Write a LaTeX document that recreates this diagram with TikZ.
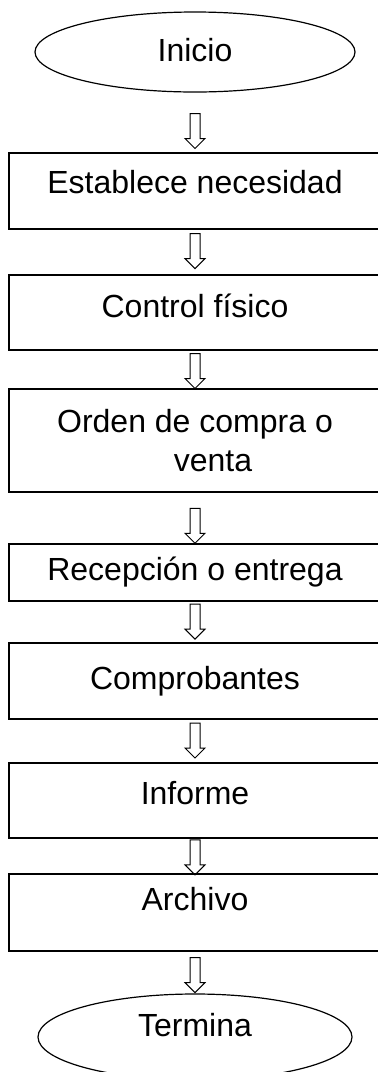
\documentclass[tikz,border=0pt]{standalone}
\usepackage{fontspec}
\setmainfont{Liberation Sans}
\usetikzlibrary{positioning,shapes.geometric}
\begin{document}
\begin{tikzpicture}[font=\fontsize{24}{29.25}\selectfont,
    caja/.style = {draw, line width=1.5pt, outer sep=0pt, minimum width=279pt, inner sep=3pt},
    extremo/.style = {draw, ellipse, line width=0.9pt, outer sep=0pt, minimum width=240pt, minimum height=60pt, inner sep=2pt},
    lift/.style = {text height=17.2pt, text depth=#1},
    bloque/.pic = {\draw[line width=0.75pt] (-3.75pt,13.1pt) -- (-3.75pt,-5.6pt) -- (-7.5pt,-5.6pt) -- (0,-13.1pt) -- (7.5pt,-5.6pt) -- (3.75pt,-5.6pt) -- (3.75pt,13.1pt) -- cycle;}]
            \useasboundingbox (0,0) rectangle (283.5pt,-804pt);
            \node[extremo, lift=3pt] (inicio) at (146.25pt,-39pt) {Inicio};
            \node[caja, minimum height=57pt, lift=13.5pt] (necesidad) [below=45.75pt of inicio] {Establece necesidad};
            \node[caja, minimum height=56.25pt, lift=9.75pt] (control) [below=34.5pt of necesidad] {Control físico};
            \node[caja, minimum height=77.25pt, align=center] (orden) [below=29.25pt of control] {Orden de compra o\\\hspace*{27pt}venta};
            \node[caja, minimum height=42.75pt, lift=5.25pt] (recepcion) [below=39pt of orden] {Recepción o entrega};
            \node[caja, minimum height=57pt, lift=4.5pt] (comprobantes) [below=31.5pt of recepcion] {Comprobantes};
            \node[caja, minimum height=56.25pt, lift=11.25pt] (informe) [below=33pt of comprobantes] {Informe};
            \node[caja, minimum height=57.75pt, lift=20.25pt] (archivo) [below=27pt of informe] {Archivo};
            \node[extremo, minimum width=235.5pt, minimum height=64.5pt, lift=18pt] (termina) [below=32.25pt of archivo] {Termina};
            \path (inicio) -- coordinate[pos=.64] (f1) (necesidad);
            \path (necesidad) -- coordinate[pos=.48] (f2) (control);
            \path (control) -- coordinate[pos=.54] (f3) (orden);
            \path (orden) -- coordinate[pos=.65] (f4) (recepcion);
            \path (recepcion) -- coordinate[pos=.49] (f5) (comprobantes);
            \path (comprobantes) -- coordinate[pos=.49] (f6) (informe);
            \path (informe) -- coordinate[pos=.54] (f7) (archivo);
            \path (archivo) -- coordinate[pos=.56] (f8) (termina);
            \foreach \i in {1,...,8}
                \pic at (f\i) {bloque};
        \end{tikzpicture}
\end{document}
